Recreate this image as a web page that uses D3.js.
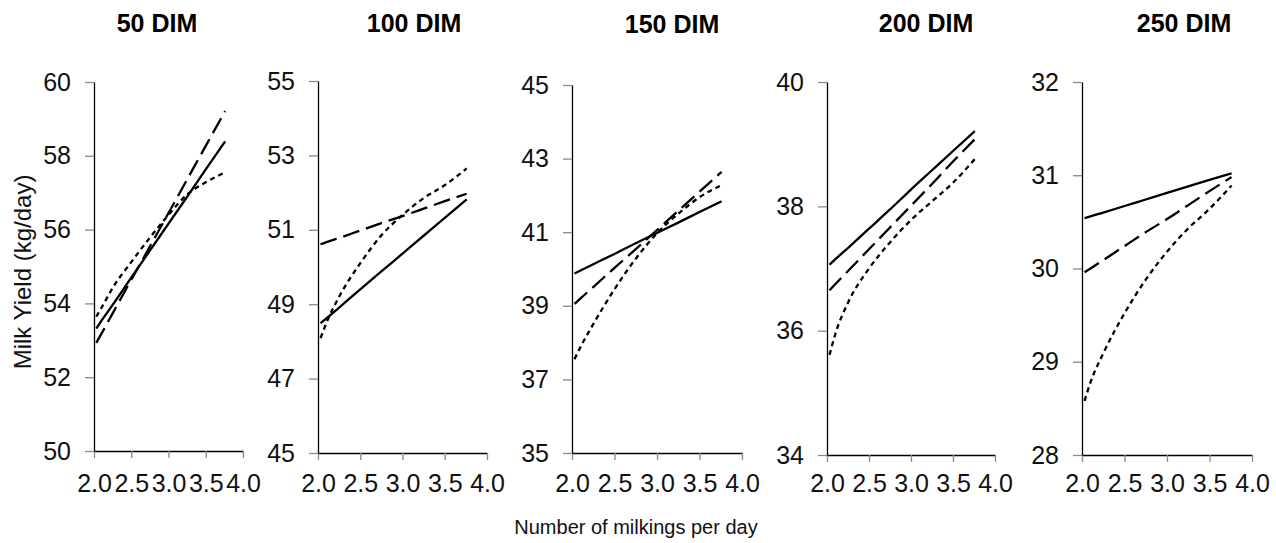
<!DOCTYPE html>
<html>
<head>
<meta charset="utf-8">
<script src="https://cdn.jsdelivr.net/npm/d3@7"></script>
<style>
  body { margin: 0; background: #fff; }
  svg { display: block; font-family: "Liberation Sans", Arial, sans-serif; }
  .axis .domain { stroke: #000; stroke-width: 1.3px; }
  .axis .tick line { stroke: #8a8a8a; stroke-width: 1.3px; }
  .axis .tick text { fill: #111; font-size: 25px; }
  .title { font-size: 25px; font-weight: bold; fill: #000; }
  .label { fill: #111; }
</style>
</head>
<body>
<svg width="1276" height="543"></svg>
<script>
// data
const dimLabels = ["50 DIM", "100 DIM", "150 DIM", "200 DIM", "250 DIM"];
const milkings = [2.03, 2.1, 2.25, 2.5, 2.75, 3.0, 3.25, 3.5, 3.76];
const xTicks = [2.0, 2.5, 3.0, 3.5, 4.0];

const yMin = [50, 45, 35, 34, 28];
const yMax = [60, 55, 45, 40, 32];
const yTicks = [
  [50, 52, 54, 56, 58, 60],
  [45, 47, 49, 51, 53, 55],
  [35, 37, 39, 41, 43, 45],
  [34, 36, 38, 40],
  [28, 29, 30, 31, 32]
];

// solid line
const seriesSolid = [
  [53.32, 53.53, 53.96, 54.70, 55.43, 56.16, 56.89, 57.63, 58.39],
  [48.49, 48.62, 48.91, 49.40, 49.88, 50.36, 50.84, 51.32, 51.82],
  [39.88, 39.96, 40.13, 40.41, 40.70, 40.98, 41.26, 41.55, 41.84],
  [37.06, 37.15, 37.33, 37.64, 37.95, 38.27, 38.58, 38.89, 39.21],
  [30.54, 30.56, 30.60, 30.67, 30.74, 30.81, 30.88, 30.95, 31.02]
];
// long dashes
const seriesLongDash = [
  [52.93, 53.18, 53.73, 54.64, 55.54, 56.45, 57.36, 58.27, 59.21],
  [50.61, 50.67, 50.78, 50.98, 51.18, 51.37, 51.57, 51.77, 51.97],
  [39.05, 39.20, 39.51, 40.03, 40.54, 41.06, 41.58, 42.10, 42.64],
  [36.65, 36.75, 36.96, 37.31, 37.66, 38.01, 38.36, 38.72, 39.08],
  [29.96, 30.00, 30.09, 30.24, 30.39, 30.53, 30.68, 30.83, 30.98]
];
// short dashes
const seriesShortDash = [
  [53.64, 53.88, 54.42, 55.12, 55.78, 56.40, 56.95, 57.28, 57.55],
  [48.09, 48.50, 49.20, 50.10, 50.85, 51.40, 51.85, 52.20, 52.65],
  [37.55, 37.88, 38.50, 39.45, 40.28, 40.97, 41.50, 41.95, 42.28],
  [35.61, 35.95, 36.45, 37.00, 37.42, 37.78, 38.08, 38.38, 38.76],
  [28.58, 28.78, 29.09, 29.52, 29.88, 30.18, 30.43, 30.64, 30.89]
];

// layout of the five panels (pixels)
const panelLeft = [94, 318, 572, 827, 1082];
const panelRight = [243, 487, 742, 995, 1252];
const panelTop = [82, 81, 85, 82, 82];
const panelBottom = [451, 453, 453, 455, 455];
const titleX = [157, 414, 672, 926, 1184];
const titleY = [32, 32, 33, 32, 32];

const svg = d3.select('svg');

dimLabels.forEach(function (label, i) {
  const xScale = d3.scaleLinear()
    .domain([2, 4])
    .range([panelLeft[i], panelRight[i]]);

  const yScale = d3.scaleLinear()
    .domain([yMin[i], yMax[i]])
    .range([panelBottom[i], panelTop[i]]);

  svg.append('g')
    .attr('class', 'axis')
    .attr('transform', `translate(0, ${panelBottom[i]})`)
    .call(d3.axisBottom(xScale)
      .tickValues(xTicks)
      .tickFormat(d3.format('.1f'))
      .tickSize(7)
      .tickSizeOuter(0)
      .tickPadding(474 - panelBottom[i] - 7));

  svg.append('g')
    .attr('class', 'axis')
    .attr('transform', `translate(${panelLeft[i]}, 0)`)
    .call(d3.axisLeft(yScale)
      .tickValues(yTicks[i])
      .tickFormat(d3.format('d'))
      .tickSize(9)
      .tickSizeOuter(0)
      .tickPadding(14));

  svg.selectAll('.axis .domain').attr('fill', 'none');

  const line = d3.line()
    .x((d, k) => xScale(milkings[k]))
    .y(d => yScale(d))
    .curve(d3.curveMonotoneX);

  const series = [
    { values: seriesShortDash[i], dash: '5,4' },
    { values: seriesLongDash[i], dash: '17,7' },
    { values: seriesSolid[i], dash: null }
  ];

  svg.selectAll(null)
    .data(series)
    .enter()
    .append('path')
    .attr('d', s => line(s.values))
    .attr('fill', 'none')
    .attr('stroke', '#000')
    .attr('stroke-width', 2.3)
    .attr('stroke-dasharray', s => s.dash);

  svg.append('text')
    .attr('class', 'title')
    .attr('x', titleX[i])
    .attr('y', titleY[i])
    .attr('text-anchor', 'middle')
    .text(label);
});

svg.append('text')
  .attr('class', 'label')
  .attr('transform', 'translate(31, 272) rotate(-90)')
  .attr('text-anchor', 'middle')
  .style('font-size', '24px')
  .text('Milk Yield (kg/day)');

svg.append('text')
  .attr('class', 'label')
  .attr('x', 636)
  .attr('y', 534)
  .attr('text-anchor', 'middle')
  .style('font-size', '20px')
  .text('Number of milkings per day');
</script>
</body>
</html>
